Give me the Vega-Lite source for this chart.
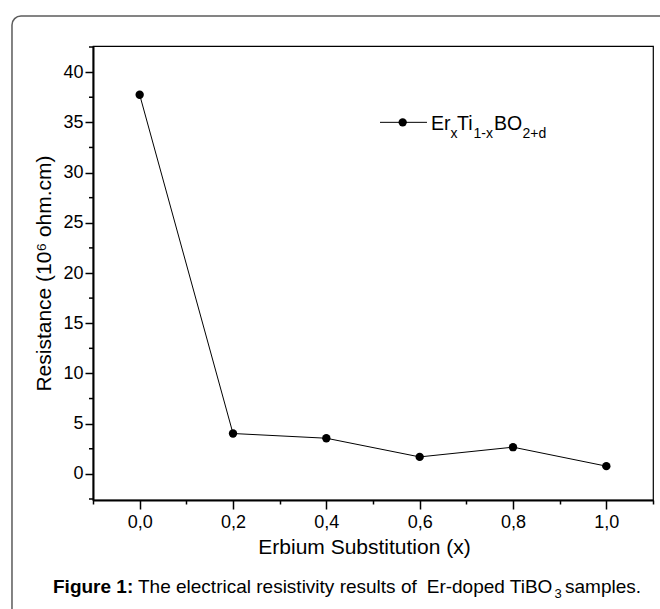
{
  "$schema": "https://vega.github.io/schema/vega-lite/v6.json",
  "width": 560,
  "height": 454,
  "autosize": {"type": "none"},
  "padding": {"left": 93, "top": 46, "right": 7, "bottom": 109},
  "background": "white",
  "config": {
    "font": "Liberation Sans",
    "view": {"stroke": "#000000", "strokeWidth": 1.2}
  },
  "datasets": {
    "resistivity": [
      {"x": 0.0, "resistance": 37.75},
      {"x": 0.2, "resistance": 4.02},
      {"x": 0.4, "resistance": 3.55},
      {"x": 0.6, "resistance": 1.69},
      {"x": 0.8, "resistance": 2.66},
      {"x": 1.0, "resistance": 0.77}
    ],
    "minorTicksY": [
      {"tick": -2.5}, {"tick": 2.5}, {"tick": 7.5}, {"tick": 12.5}, {"tick": 17.5},
      {"tick": 22.5}, {"tick": 27.5}, {"tick": 32.5}, {"tick": 37.5}, {"tick": 42.5}
    ],
    "single": [{}]
  },
  "data": {"name": "single"},
  "layer": [
    {
      "data": {"name": "resistivity"},
      "mark": {"type": "line", "color": "#000000", "strokeWidth": 1},
      "encoding": {
        "x": {
          "field": "x",
          "type": "quantitative",
          "scale": {"domain": [-0.1, 1.1], "nice": false, "zero": false},
          "axis": {
            "values": [-0.1, 0, 0.1, 0.2, 0.3, 0.4, 0.5, 0.6, 0.7, 0.8, 0.9, 1.0, 1.1],
            "labelExpr": "abs(round(datum.value * 10)) % 2 === 0 ? replace(format(datum.value, '.1f'), '.', ',') : ''",
            "tickSize": {"condition": {"test": "abs(round(datum.value * 10)) % 2 === 1", "value": 4}, "value": 9},
            "tickWidth": 1.5,
            "tickColor": "#000000",
            "domainColor": "#000000",
            "domainWidth": 2,
            "grid": false,
            "labelFont": "Liberation Sans",
            "labelFontSize": 18,
            "labelColor": "#000000",
            "labelPadding": 4,
            "labelFlush": false,
            "labelOverlap": false,
            "title": "Erbium Substitution (x)",
            "titleFont": "Liberation Sans",
            "titleFontSize": 21,
            "titleFontWeight": "normal",
            "titleColor": "#000000",
            "titlePadding": 5,
            "titleX": 271
          }
        },
        "y": {
          "field": "resistance",
          "type": "quantitative",
          "scale": {"domain": [-2.6, 42.6], "nice": false, "zero": false},
          "axis": {
            "values": [0, 5, 10, 15, 20, 25, 30, 35, 40],
            "format": "d",
            "tickSize": 8,
            "tickWidth": 1.5,
            "tickColor": "#000000",
            "domainColor": "#000000",
            "domainWidth": 2,
            "grid": false,
            "labelFont": "Liberation Sans",
            "labelFontSize": 18,
            "labelColor": "#000000",
            "labelPadding": 2,
            "labelFlush": false,
            "labelOverlap": false,
            "title": "Resistance (10⁶ ohm.cm)",
            "titleFont": "Liberation Sans",
            "titleFontSize": 21,
            "titleFontWeight": "normal",
            "titleColor": "#000000",
            "titlePadding": 8
          }
        }
      }
    },
    {
      "data": {"name": "resistivity"},
      "mark": {"type": "point", "filled": true, "size": 70, "color": "#000000", "opacity": 1},
      "encoding": {
        "x": {"field": "x", "type": "quantitative"},
        "y": {"field": "resistance", "type": "quantitative"}
      }
    },
    {
      "data": {"name": "minorTicksY"},
      "mark": {"type": "rule", "color": "#000000", "strokeWidth": 1.5, "xOffset": -4, "x2Offset": 0, "clip": false},
      "encoding": {
        "x": {"datum": -0.1, "type": "quantitative"},
        "x2": {"datum": -0.1},
        "y": {"field": "tick", "type": "quantitative"}
      }
    },
    {
      "mark": {"type": "rect", "fill": "transparent", "stroke": "#5c5c5c", "strokeWidth": 1.5, "cornerRadius": 9, "clip": false},
      "encoding": {
        "x": {"datum": -0.2736, "type": "quantitative"},
        "x2": {"datum": 1.14},
        "y": {"datum": 45.59, "type": "quantitative"},
        "y2": {"datum": -14.55}
      }
    },
    {
      "mark": {"type": "rule", "color": "#000000", "strokeWidth": 1},
      "encoding": {
        "x": {"datum": 0.515, "type": "quantitative"},
        "x2": {"datum": 0.6157},
        "y": {"datum": 35.0, "type": "quantitative"}
      }
    },
    {
      "mark": {"type": "point", "filled": true, "size": 70, "color": "#000000", "opacity": 1},
      "encoding": {
        "x": {"datum": 0.5636, "type": "quantitative"},
        "y": {"datum": 35.0, "type": "quantitative"}
      }
    },
    {
      "mark": {"type": "text", "text": "Er", "align": "left", "baseline": "alphabetic", "fontSize": 19.5, "fill": "#000000"},
      "encoding": {"x": {"datum": 0.6243, "type": "quantitative"}, "y": {"datum": 34.24, "type": "quantitative"}}
    },
    {
      "mark": {"type": "text", "text": "x", "align": "left", "baseline": "alphabetic", "fontSize": 14, "dy": 8.3, "fill": "#000000"},
      "encoding": {"x": {"datum": 0.6661, "type": "quantitative"}, "y": {"datum": 34.24, "type": "quantitative"}}
    },
    {
      "mark": {"type": "text", "text": "Ti", "align": "left", "baseline": "alphabetic", "fontSize": 19.5, "fill": "#000000"},
      "encoding": {"x": {"datum": 0.68, "type": "quantitative"}, "y": {"datum": 34.24, "type": "quantitative"}}
    },
    {
      "mark": {"type": "text", "text": "1-x", "align": "left", "baseline": "alphabetic", "fontSize": 14, "dy": 8.3, "fill": "#000000"},
      "encoding": {"x": {"datum": 0.7154, "type": "quantitative"}, "y": {"datum": 34.24, "type": "quantitative"}}
    },
    {
      "mark": {"type": "text", "text": "BO", "align": "left", "baseline": "alphabetic", "fontSize": 19.5, "fill": "#000000"},
      "encoding": {"x": {"datum": 0.7593, "type": "quantitative"}, "y": {"datum": 34.24, "type": "quantitative"}}
    },
    {
      "mark": {"type": "text", "text": "2+d", "align": "left", "baseline": "alphabetic", "fontSize": 14, "dy": 8.3, "fill": "#000000"},
      "encoding": {"x": {"datum": 0.8204, "type": "quantitative"}, "y": {"datum": 34.24, "type": "quantitative"}}
    },
    {
      "mark": {"type": "text", "text": "Figure 1:", "align": "left", "baseline": "alphabetic", "fontSize": 19, "fontWeight": "bold", "fill": "#000000"},
      "encoding": {"x": {"datum": -0.1857, "type": "quantitative"}, "y": {"datum": -11.86, "type": "quantitative"}}
    },
    {
      "mark": {"type": "text", "text": "The electrical resistivity results of", "align": "left", "baseline": "alphabetic", "fontSize": 19, "fill": "#000000"},
      "encoding": {"x": {"datum": -0.0036, "type": "quantitative"}, "y": {"datum": -11.86, "type": "quantitative"}}
    },
    {
      "mark": {"type": "text", "text": "Er-doped TiBO", "align": "left", "baseline": "alphabetic", "fontSize": 19, "fill": "#000000"},
      "encoding": {"x": {"datum": 0.6151, "type": "quantitative"}, "y": {"datum": -11.86, "type": "quantitative"}}
    },
    {
      "mark": {"type": "text", "text": "3", "align": "left", "baseline": "alphabetic", "fontSize": 13, "dy": 5, "fill": "#000000"},
      "encoding": {"x": {"datum": 0.8889, "type": "quantitative"}, "y": {"datum": -11.86, "type": "quantitative"}}
    },
    {
      "mark": {"type": "text", "text": "samples.", "align": "left", "baseline": "alphabetic", "fontSize": 19, "fill": "#000000"},
      "encoding": {"x": {"datum": 0.9114, "type": "quantitative"}, "y": {"datum": -11.86, "type": "quantitative"}}
    }
  ]
}
